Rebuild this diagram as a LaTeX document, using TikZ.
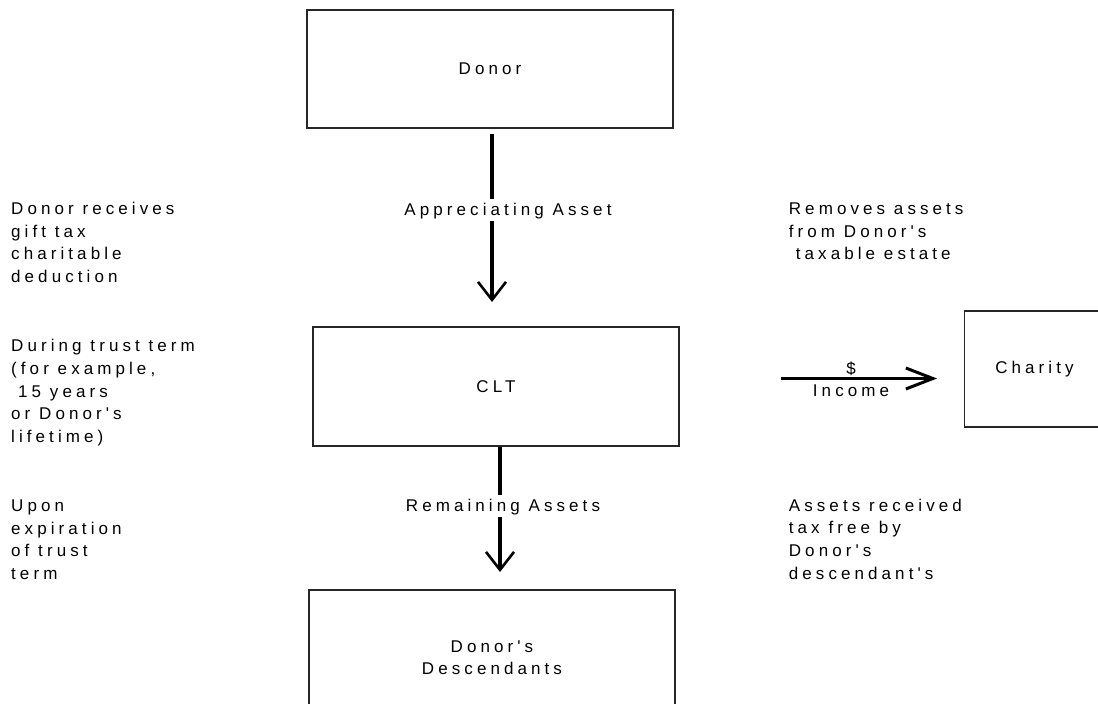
\documentclass[tikz,border=0pt]{standalone}
\usepackage{fontspec}
\newfontfamily\arialsp[LetterSpace=24]{Liberation Sans}
\usetikzlibrary{arrows.meta}
\newcommand{\lblfont}{\arialsp\fontsize{17}{22.6}\selectfont}
\begin{document}
\begin{tikzpicture}[x=1pt,y=-1pt,
  box/.style={draw=black!85, line width=1.3pt, inner sep=0pt, font=\lblfont},
  flow/.style={line width=4pt, -{Straight Barb[length=18pt, width=28pt, line width=2.6pt]}},
  flowh/.style={line width=3.6pt, -{Straight Barb[length=27pt, width=21pt, line width=3pt]}},
  lab/.style={fill=white, inner xsep=2pt, inner ysep=2.5pt, text height=14pt, text depth=3pt, font=\lblfont},
  note/.style={anchor=north west, inner sep=0pt, align=left, font=\lblfont},
  plain/.style={inner sep=0pt, font=\lblfont}]
\useasboundingbox (0,0) rectangle (1098,704);

% boxes
\node[box, minimum width=366pt, minimum height=118pt] (donor) at (490,69) {Donor};
\node[box, minimum width=366pt, minimum height=119pt] (clt) at (496,386.5) {CLT};
\node[box, minimum width=366pt, minimum height=135.4pt, align=center] (desc) at (492,657.7) {Donor's\\Descendants};
\node[box, minimum width=139.4pt, minimum height=116pt] (charity) at (1034.5,369) {Charity};

% connectors
\coordinate (a1e) at (492,302);
\coordinate (a2e) at (500,572);
\coordinate (inc1) at (781,378.5);
\coordinate (inc2) at (937,378.5);
\draw[flow, shorten <=5pt] (donor.south -| a1e) -- (a1e);
\draw[flow] (clt.south -| a2e) -- (a2e);
\draw[flowh] (inc1) -- (inc2);

% connector labels
\node[lab] (l1) at (508,209.5) {Appreciating Asset};
\node[lab] (l2) at (503,505.5) {Remaining Assets};
\node[plain, anchor=base] (l3) at (851,374) {\$};
\node[plain, anchor=base] (l4) at (851,396.7) {Income};

% side notes
\node[note] (n1) at (11,201.3) {\rule{0pt}{13pt}Donor receives\\gift tax\\charitable\\deduction};
\node[note] (n2) at (11,338.7) {\rule{0pt}{13pt}During trust term\\(for example,\\\hspace*{7pt}15 years\\or Donor's\\lifetime)};
\node[note] (n3) at (11,498.5) {\rule{0pt}{13pt}Upon\\expiration\\of trust\\term};
\node[note] (n4) at (788.7,201.3) {\rule{0pt}{13pt}Removes assets\\from Donor's\\\hspace*{7pt}taxable estate};
\node[note] (n5) at (788.7,498) {\rule{0pt}{13pt}Assets received\\tax free by\\Donor's\\descendant's};
\end{tikzpicture}
\end{document}
